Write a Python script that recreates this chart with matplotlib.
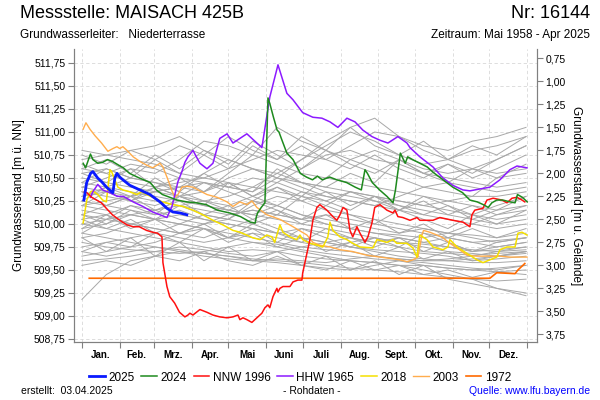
import numpy as np
import matplotlib
matplotlib.use("Agg")
import matplotlib.pyplot as plt

plt.rcParams['font.family'] = ['Liberation Sans', 'DejaVu Sans']

# day of year (0 = 1. Jan) and level [m ü. NN]
days_2025 = [1.6, 3.9, 7.1, 9, 12.9, 16.1, 20.2, 24.3, 25.4, 27, 28.7, 31, 33.6, 39.3, 47.5, 55.7, 64, 69.7, 74.6, 80.3, 86]
lvl_2025 = [510.26, 510.45, 510.55, 510.57, 510.50, 510.46, 510.40, 510.35, 510.34, 510.50, 510.55, 510.51, 510.48, 510.42, 510.37, 510.32, 510.24, 510.17, 510.13, 510.12, 510.10]

days_2024 = [1, 3, 7, 9, 13, 17, 21, 25, 30, 34, 39, 47, 56, 61, 66, 72, 78, 86, 94, 102, 111, 121, 130, 138, 142, 143, 144, 147, 150,
             152.5, 154, 157, 160, 161.5, 164, 168, 173, 179, 184, 189, 193, 197, 203, 209, 217, 224, 229, 232, 234, 238, 244, 250,
             255, 257, 261, 265, 267, 271, 277, 283, 288, 296, 304, 312, 318, 324, 329, 333, 336, 340, 345, 351, 355, 357, 361, 365]
lvl_2024 = [510.66, 510.61, 510.76, 510.70, 510.66, 510.67, 510.70, 510.68, 510.64, 510.61, 510.55, 510.50, 510.45, 510.37, 510.32,
            510.29, 510.26, 510.24, 510.23, 510.21, 510.15, 510.12, 510.08, 510.02, 510.01, 510.08, 510.12, 510.18, 510.23,
            511.37, 511.31, 511.16, 511.02, 511.00, 510.91, 510.77, 510.70, 510.55, 510.51, 510.48, 510.52, 510.48, 510.51, 510.48,
            510.45, 510.40, 510.37, 510.59, 510.55, 510.45, 510.37, 510.30, 510.23, 510.37, 510.77, 510.66, 510.73, 510.70, 510.66,
            510.62, 510.56, 510.48, 510.40, 510.34, 510.26, 510.24, 510.21, 510.18, 510.23, 510.26, 510.26, 510.24, 510.23, 510.32,
            510.29, 510.24]

days_1996 = [2, 4, 8, 12, 16, 20, 25, 31, 37, 42, 47, 53, 58, 62, 65.6, 66.4, 69.7, 72, 76, 80, 84.4, 86.9, 88.5, 91, 96.7, 102.5,
             107.4, 113, 118.9, 123.8, 127.9, 129.5, 132, 135.2, 139.3, 143.4, 147.5, 150, 152.5, 154, 156.6, 159.8, 160.7, 162.3,
             164.8, 170.5, 173, 177, 180.3, 181, 184.4, 186.9, 189.3, 192.6, 195, 200.8, 205.7, 209, 211.5, 214, 217.2, 219.7, 222,
             225.4, 227.9, 232, 234.4, 237.7, 240, 244.3, 250, 254.9, 256.6, 259, 263, 268.9, 274.6, 277, 287.7, 293.4, 304, 312.3,
             318, 319.7, 322, 328.7, 332, 337, 344.3, 348.4, 352.5, 356.6, 360.7, 363]
lvl_1996 = [510.35, 510.34, 510.29, 510.26, 510.23, 510.17, 510.10, 510.04, 509.99, 509.97, 509.97, 509.93, 509.91, 509.90, 509.86,
            509.58, 509.32, 509.21, 509.14, 509.04, 508.99, 509.01, 509.03, 509.01, 509.07, 509.04, 509.01, 508.99, 508.98, 508.99,
            509.01, 508.96, 508.98, 508.96, 508.93, 508.98, 509.03, 509.09, 509.12, 509.09, 509.21, 509.30, 509.26, 509.30, 509.32,
            509.32, 509.37, 509.39, 509.39, 509.47, 509.68, 509.83, 510.04, 510.18, 510.21, 510.15, 510.08, 510.04, 510.10, 510.18,
            510.15, 509.93, 509.86, 509.97, 509.90, 509.80, 509.86, 510.01, 510.18, 510.21, 510.15, 510.12, 510.15, 510.08, 510.07,
            510.04, 510.07, 510.04, 510.04, 510.07, 510.04, 510.02, 509.97, 510.10, 510.15, 510.17, 510.26, 510.28, 510.26, 510.23,
            510.28, 510.29, 510.26, 510.24]

days_1965 = [7, 9, 13, 17, 23, 29, 34, 42, 50, 58, 64, 69.7, 73.8, 76.2, 78.7, 82, 84.4, 86.9, 91, 96.7, 102.5, 107.4, 113, 119,
             123.8, 129.5, 135.2, 139.3, 147.5, 154, 160.7, 168, 173, 181, 189.3, 196.7, 203.3, 209.8, 217.2, 223.8, 230.3, 237.7,
             244.3, 250.8, 259, 266.4, 268.9, 277, 287.7, 295.9, 304, 312.3, 318, 326, 334.4, 342.6, 350.8, 356.6, 364.8]
lvl_1965 = [510.29, 510.35, 510.43, 510.37, 510.34, 510.30, 510.30, 510.24, 510.19, 510.13, 510.10, 510.07, 510.19, 510.32, 510.46,
            510.57, 510.67, 510.73, 510.80, 510.66, 510.60, 510.66, 510.93, 510.98, 510.88, 510.93, 510.98, 510.93, 510.83, 511.38,
            511.73, 511.42, 511.35, 511.21, 511.16, 511.15, 511.11, 511.05, 511.15, 511.11, 511.02, 510.95, 510.91, 510.88, 510.95,
            510.88, 510.83, 510.73, 510.62, 510.50, 510.42, 510.37, 510.36, 510.38, 510.40, 510.48, 510.59, 510.63, 510.61]

days_2018 = [1, 4, 7, 9, 13, 17, 20, 23, 24.3, 27, 29.5, 33.6, 39.3, 45, 49, 53, 58, 66, 74.6, 83, 91, 99, 107.4, 115.6, 123.8,
             129.5, 135, 140, 146, 151.6, 155.7, 158, 162.3, 164.8, 170.5, 176, 178.7, 181, 186.9, 192.6, 197.5, 201.6, 203.3, 205.7,
             211.5, 217.2, 222, 227.9, 238.5, 241.8, 250, 254.9, 258, 266.4, 271.3, 274.6, 277, 282.8, 287.7, 295.9, 300, 301.6,
             307.4, 315.6, 323.8, 328.7, 334.4, 340, 342.6, 348.4, 355, 357.4, 360.7, 364.8]
lvl_2018 = [510.01, 510.26, 510.35, 510.36, 510.32, 510.26, 510.24, 510.59, 510.57, 510.48, 510.40, 510.37, 510.35, 510.32, 510.35,
            510.32, 510.29, 510.24, 510.21, 510.19, 510.15, 510.10, 510.04, 509.99, 509.93, 509.91, 509.88, 509.85, 509.83, 509.88,
            509.86, 509.80, 509.99, 509.91, 509.86, 509.83, 509.88, 509.83, 509.79, 509.77, 509.75, 509.86, 510.02, 509.93, 509.86,
            509.83, 509.79, 509.75, 509.74, 509.83, 509.80, 509.83, 509.79, 509.79, 509.74, 509.64, 509.88, 509.83, 509.75, 509.72,
            509.75, 509.83, 509.75, 509.68, 509.61, 509.58, 509.61, 509.64, 509.72, 509.75, 509.75, 509.90, 509.91, 509.88]

days_2003 = [1, 3.3, 6.6, 10.7, 16.1, 21.3, 25.4, 28.7, 31, 33.6, 36.9, 42, 47.5, 53, 58, 64, 66.4, 69.7, 73.8, 76.2, 78.7, 82, 86,
             91, 96.7, 102.5, 110.7, 118.9, 123.8, 129.5, 135.2, 139.3, 143.4, 151.6, 162.3, 173, 184.4, 189.3, 195, 203.3, 211.5,
             222, 233.6, 260.7, 266.4, 271.3, 275.4, 278.7, 280, 285.2, 291, 295.9, 301.6, 307.4, 315.6, 323.8, 334.4, 342.6, 350.8,
             359, 364.8]
lvl_2003 = [511.03, 511.10, 511.03, 510.96, 510.88, 510.79, 510.82, 510.84, 510.82, 510.84, 510.80, 510.73, 510.68, 510.64, 510.61,
            510.66, 510.62, 510.51, 510.36, 510.29, 510.32, 510.40, 510.41, 510.40, 510.36, 510.32, 510.29, 510.24, 510.19, 510.24,
            510.21, 510.25, 510.18, 510.10, 510.05, 509.97, 509.88, 509.80, 509.77, 509.75, 509.72, 509.70, 509.66, 509.61, 509.59,
            509.61, 509.64, 509.88, 509.93, 509.91, 509.88, 509.85, 509.79, 509.74, 509.66, 509.65, 509.65, 509.65, 509.64, 509.64,
            509.64]

days_1972 = [6, 100, 200, 300, 334.4, 340, 355, 357.4, 363]
lvl_1972 = [509.41, 509.41, 509.41, 509.41, 509.41, 509.47, 509.46, 509.50, 509.57]

# other years (grey background), sampled every 20 days
grey_days = [0, 20, 40, 60, 80, 100, 120, 140, 160, 180, 200, 220, 240, 260, 280, 300, 320, 340, 364]
grey_years = [
    [510.70, 510.75, 510.80, 510.85, 510.95, 510.80, 510.70, 510.60, 510.50, 510.45, 510.40, 510.35, 510.30, 510.25, 510.20, 510.15, 510.10, 510.05, 510.10],
    [510.55, 510.60, 510.50, 510.45, 510.40, 510.35, 510.55, 510.75, 511.05, 510.90, 510.80, 510.70, 510.60, 510.50, 510.40, 510.35, 510.30, 510.30, 510.35],
    [510.45, 510.40, 510.35, 510.30, 510.25, 510.20, 510.15, 510.10, 510.05, 510.00, 509.95, 509.90, 509.85, 509.80, 509.78, 509.75, 509.72, 509.70, 509.72],
    [510.30, 510.35, 510.25, 510.20, 510.30, 510.25, 510.15, 510.10, 510.20, 510.10, 510.00, 509.95, 509.90, 509.85, 509.80, 509.85, 509.80, 509.75, 509.80],
    [510.20, 510.15, 510.10, 510.05, 510.00, 509.95, 509.90, 509.85, 509.80, 509.75, 509.72, 509.70, 509.65, 509.62, 509.60, 509.60, 509.58, 509.58, 509.60],
    [510.05, 510.10, 510.00, 509.95, 509.90, 509.95, 509.85, 509.80, 509.75, 509.70, 509.65, 509.60, 509.58, 509.55, 509.50, 509.45, 509.40, 509.30, 509.22],
    [509.90, 509.85, 509.80, 509.75, 509.70, 509.65, 509.62, 509.60, 509.58, 509.55, 509.52, 509.50, 509.55, 509.60, 509.58, 509.55, 509.52, 509.50, 509.55],
    [509.18, 509.45, 509.60, 509.65, 509.70, 509.68, 509.65, 509.60, 509.62, 509.60, 509.58, 509.62, 509.65, 509.62, 509.60, 509.62, 509.65, 509.70, 509.75],
    [509.75, 509.80, 509.85, 509.90, 509.85, 509.80, 509.85, 509.90, 509.85, 509.80, 509.75, 509.80, 509.85, 509.80, 509.75, 509.70, 509.68, 509.65, 509.68],
    [510.60, 510.55, 510.45, 510.40, 510.30, 510.35, 510.50, 510.60, 510.55, 510.45, 510.35, 510.30, 510.25, 510.20, 510.15, 510.10, 510.05, 510.00, 510.05],
    [510.10, 510.20, 510.30, 510.40, 510.45, 510.50, 510.60, 510.70, 510.80, 510.75, 510.70, 510.85, 511.00, 510.95, 510.85, 510.80, 510.90, 510.95, 511.05],
    [510.40, 510.50, 510.60, 510.55, 510.70, 510.90, 510.85, 510.75, 510.65, 510.55, 510.50, 510.45, 510.40, 510.35, 510.30, 510.25, 510.20, 510.15, 510.20],
    [509.95, 510.00, 510.10, 510.05, 510.00, 510.10, 510.05, 510.00, 510.10, 510.30, 510.50, 510.70, 510.80, 510.70, 510.60, 510.55, 510.60, 510.70, 510.85],
    [510.25, 510.20, 510.15, 510.10, 510.15, 510.05, 510.00, 509.95, 509.90, 509.95, 509.90, 509.85, 509.80, 509.85, 509.80, 509.75, 509.70, 509.72, 509.75],
    [510.15, 510.10, 510.20, 510.15, 510.05, 510.00, 510.05, 510.20, 510.30, 510.25, 510.15, 510.10, 510.05, 510.00, 509.95, 509.90, 509.88, 509.85, 509.90],
    [509.80, 509.75, 509.72, 509.70, 509.68, 509.70, 509.75, 509.80, 509.78, 509.72, 509.68, 509.65, 509.62, 509.60, 509.55, 509.52, 509.50, 509.48, 509.50],
    [510.50, 510.45, 510.40, 510.35, 510.40, 510.45, 510.40, 510.35, 510.50, 510.70, 510.90, 511.05, 511.15, 510.95, 510.80, 510.70, 510.60, 510.55, 510.60],
    [510.35, 510.30, 510.25, 510.35, 510.30, 510.20, 510.15, 510.25, 510.20, 510.10, 510.05, 510.00, 509.95, 509.90, 509.95, 509.90, 509.85, 509.80, 509.85],
    [510.00, 509.95, 509.90, 509.85, 509.80, 509.75, 509.70, 509.72, 509.70, 509.65, 509.62, 509.60, 509.58, 509.55, 509.55, 509.52, 509.50, 509.52, 509.55],
    [509.65, 509.70, 509.75, 509.80, 509.90, 510.00, 510.10, 510.15, 510.10, 510.05, 510.00, 509.95, 509.90, 509.88, 509.85, 509.90, 510.00, 510.10, 510.20],
    [510.65, 510.55, 510.65, 510.60, 510.50, 510.45, 510.40, 510.50, 510.45, 510.35, 510.30, 510.25, 510.20, 510.30, 510.40, 510.45, 510.40, 510.35, 510.40],
    [510.30, 510.40, 510.50, 510.45, 510.35, 510.25, 510.20, 510.30, 510.45, 510.60, 510.75, 510.80, 510.70, 510.65, 510.55, 510.50, 510.45, 510.40, 510.45],
    [509.85, 509.90, 510.00, 510.05, 510.10, 510.05, 510.00, 509.95, 509.90, 509.85, 509.80, 509.75, 509.70, 509.65, 509.62, 509.60, 509.62, 509.65, 509.70],
    [510.10, 510.05, 510.00, 509.95, 509.90, 509.85, 509.95, 510.05, 509.95, 509.85, 509.80, 509.75, 509.72, 509.70, 509.68, 509.65, 509.60, 509.62, 509.65],
    [510.80, 510.75, 510.70, 510.65, 510.55, 510.50, 510.45, 510.40, 510.35, 510.30, 510.25, 510.35, 510.30, 510.25, 510.20, 510.25, 510.30, 510.50, 510.55],
    [510.20, 510.25, 510.30, 510.35, 510.40, 510.55, 510.70, 510.60, 510.50, 510.40, 510.30, 510.25, 510.20, 510.15, 510.10, 510.05, 510.00, 509.95, 510.00],
    [509.70, 509.65, 509.70, 509.75, 509.72, 509.68, 509.65, 509.62, 509.60, 509.58, 509.55, 509.52, 509.50, 509.48, 509.45, 509.42, 509.40, 509.38, 509.40],
    [510.40, 510.35, 510.30, 510.25, 510.20, 510.15, 510.10, 510.15, 510.10, 510.05, 510.10, 510.05, 510.00, 509.95, 509.90, 509.85, 509.80, 509.82, 509.85],
    [510.00, 510.05, 510.10, 510.15, 510.20, 510.25, 510.30, 510.40, 510.55, 510.70, 510.85, 511.00, 510.90, 510.75, 510.65, 510.70, 510.80, 510.85, 510.95],
    [509.60, 509.62, 509.65, 509.70, 509.75, 509.72, 509.68, 509.65, 509.70, 509.75, 509.80, 509.85, 509.80, 509.75, 509.70, 509.68, 509.66, 509.68, 509.70],
    [510.45, 510.60, 510.50, 510.70, 510.55, 510.75, 510.60, 510.85, 510.70, 510.95, 510.80, 511.05, 510.85, 510.75, 510.90, 510.70, 510.85, 510.75, 510.95],
    [510.25, 510.40, 510.30, 510.50, 510.35, 510.55, 510.40, 510.35, 510.60, 510.45, 510.40, 510.55, 510.45, 510.70, 510.55, 510.65, 510.50, 510.60, 510.75],
    [510.10, 510.00, 510.15, 510.05, 510.20, 510.10, 510.05, 510.25, 510.15, 510.05, 510.20, 510.10, 510.00, 510.15, 510.05, 509.95, 510.10, 510.00, 510.15],
    [509.95, 510.10, 509.95, 510.05, 509.90, 510.00, 509.85, 509.95, 509.80, 509.95, 509.85, 509.75, 509.85, 509.75, 509.90, 509.80, 509.70, 509.80, 509.85],
    [510.55, 510.45, 510.60, 510.40, 510.50, 510.35, 510.45, 510.30, 510.40, 510.25, 510.35, 510.20, 510.30, 510.15, 510.25, 510.10, 510.20, 510.10, 510.15],
    [509.85, 509.70, 509.85, 509.65, 509.80, 509.60, 509.75, 509.60, 509.70, 509.55, 509.65, 509.50, 509.60, 509.45, 509.55, 509.40, 509.35, 509.30, 509.25],
    [510.35, 510.20, 510.30, 510.15, 510.25, 510.10, 510.20, 510.05, 510.15, 510.00, 510.10, 509.95, 510.05, 509.90, 510.00, 509.85, 509.95, 509.85, 509.95],
    [510.60, 510.70, 510.55, 510.75, 510.60, 510.80, 510.65, 510.90, 510.75, 510.60, 510.80, 510.65, 510.55, 510.70, 510.55, 510.45, 510.60, 510.50, 510.65],
    [509.70, 509.80, 509.75, 509.90, 509.80, 509.95, 509.85, 510.00, 509.90, 509.80, 509.95, 509.85, 509.75, 509.85, 509.70, 509.80, 509.70, 509.75, 509.80],
    [510.20, 510.35, 510.25, 510.40, 510.30, 510.45, 510.35, 510.25, 510.40, 510.30, 510.20, 510.35, 510.25, 510.15, 510.30, 510.20, 510.10, 510.20, 510.30],
    [509.55, 509.60, 509.55, 509.65, 509.60, 509.70, 509.60, 509.55, 509.65, 509.55, 509.50, 509.60, 509.50, 509.55, 509.45, 509.50, 509.42, 509.48, 509.45],
    [510.75, 510.65, 510.80, 510.70, 510.85, 510.75, 510.95, 510.80, 510.70, 510.85, 510.70, 510.60, 510.75, 510.60, 510.50, 510.65, 510.55, 510.70, 510.85],
    [509.90, 510.05, 510.20, 510.10, 510.30, 510.20, 510.45, 510.30, 510.20, 510.35, 510.25, 510.15, 510.30, 510.20, 510.10, 510.20, 510.05, 510.15, 510.30],
    [510.05, 509.95, 510.05, 509.90, 510.00, 509.95, 509.80, 509.90, 509.75, 509.85, 509.70, 509.80, 509.65, 509.75, 509.62, 509.70, 509.60, 509.65, 509.70],
]

month_starts = [0, 31, 59, 90, 120, 151, 181, 212, 243, 273, 304, 334, 365]
month_names = ['Jan.', 'Feb.', 'Mrz.', 'Apr.', 'Mai', 'Juni', 'Juli', 'Aug.', 'Sept.', 'Okt.', 'Nov.', 'Dez.']
left_ticks = [508.75, 509.00, 509.25, 509.50, 509.75, 510.00, 510.25, 510.50, 510.75, 511.00, 511.25, 511.50, 511.75]
right_ticks = [0.75, 1.00, 1.25, 1.50, 1.75, 2.00, 2.25, 2.50, 2.75, 3.00, 3.25, 3.50, 3.75]
ground = 512.55  # Geländehöhe

fig = plt.figure(figsize=(6, 4), dpi=100)
ax = fig.add_axes([0.1233, 0.145, 0.7717, 0.7325])

for g in grey_years:
    ax.plot(grey_days, g, color='#a8a8a8', lw=0.7, zorder=1)

ax.plot(days_1972, lvl_1972, color='#ff6a00', lw=1.2, zorder=3, label='1972')
ax.plot(days_2003, lvl_2003, color='#ffad4d', lw=1.0, zorder=3, label='2003')
ax.plot(days_2018, lvl_2018, color='#f5e000', lw=1.1, zorder=3, label='2018')
ax.plot(days_1965, lvl_1965, color='#8c1aff', lw=1.1, zorder=4, label='HHW 1965')
ax.plot(days_1996, lvl_1996, color='#ff1010', lw=1.1, zorder=4, label='NNW 1996')
ax.plot(days_2024, lvl_2024, color='#1e8a1e', lw=1.1, zorder=5, label='2024')
ax.plot(days_2025, lvl_2025, color='#0a1aff', lw=2.0, zorder=6, label='2025')

ax.set_xlim(-6.5, 373)
ax.set_ylim(508.717, 511.902)
ax.set_yticks(left_ticks)
ax.set_yticklabels([f'{v:.2f}'.replace('.', ',') for v in left_ticks], fontsize=7.5)
ax.set_xticks(month_starts)
ax.set_xticklabels([])
ax.set_xticks([(a + b) / 2 for a, b in zip(month_starts[:-1], month_starts[1:])], minor=True)
ax.set_xticklabels(month_names, minor=True, fontsize=7, fontweight='bold')
ax.tick_params(axis='x', which='minor', length=0, pad=6)
ax.tick_params(axis='x', which='major', length=4, color='#808080')
ax.tick_params(axis='y', length=4, color='#808080', pad=2)
ax.grid(True, which='major', color='#d8d8d8', ls=(0, (4, 3)), lw=0.6)
ax.set_axisbelow(True)
ax.set_ylabel('Grundwasserstand [m ü. NN]', fontsize=8.5, labelpad=6)
ax.spines['top'].set_visible(False)
for s in ['left', 'right', 'bottom']:
    ax.spines[s].set_color('#808080')

ax2 = ax.twinx()
ax2.set_ylim(ground - 508.717, ground - 511.902)
ax2.set_yticks(right_ticks)
ax2.set_yticklabels([f'{v:.2f}'.replace('.', ',') for v in right_ticks], fontsize=7.5)
ax2.tick_params(axis='y', length=4, color='#808080', pad=2)
ax2.set_ylabel('Grundwasserstand [m u. Gelände]', fontsize=8.5, rotation=270, labelpad=12)
ax2.spines['top'].set_visible(False)
for s in ['left', 'right', 'bottom']:
    ax2.spines[s].set_color('#808080')

handles, labels = ax.get_legend_handles_labels()
order = ['2025', '2024', 'NNW 1996', 'HHW 1965', '2018', '2003', '1972']
hmap = dict(zip(labels, handles))
fig.legend([hmap[k] for k in order], order, loc='center', bbox_to_anchor=(0.5, 0.056), ncol=7,
           frameon=False, fontsize=8.5, handlelength=1.3, handletextpad=0.3, columnspacing=0.6)

fig.text(0.033, 0.965, 'Messstelle: MAISACH 425B', fontsize=13, va='center', ha='left')
fig.text(0.983, 0.965, 'Nr: 16144', fontsize=13, va='center', ha='right')
fig.text(0.033, 0.912, 'Grundwasserleiter:   Niederterrasse', fontsize=8.5, va='center', ha='left')
fig.text(0.983, 0.912, 'Zeitraum: Mai 1958 - Apr 2025', fontsize=8.5, va='center', ha='right')
fig.text(0.035, 0.022, 'erstellt:  03.04.2025', fontsize=7.5, va='center', ha='left')
fig.text(0.52, 0.022, '- Rohdaten -', fontsize=7.5, va='center', ha='center')
fig.text(0.983, 0.022, 'Quelle: www.lfu.bayern.de', fontsize=7.5, va='center', ha='right', color='#0000ff')

fig.savefig('out.png', dpi=100)
